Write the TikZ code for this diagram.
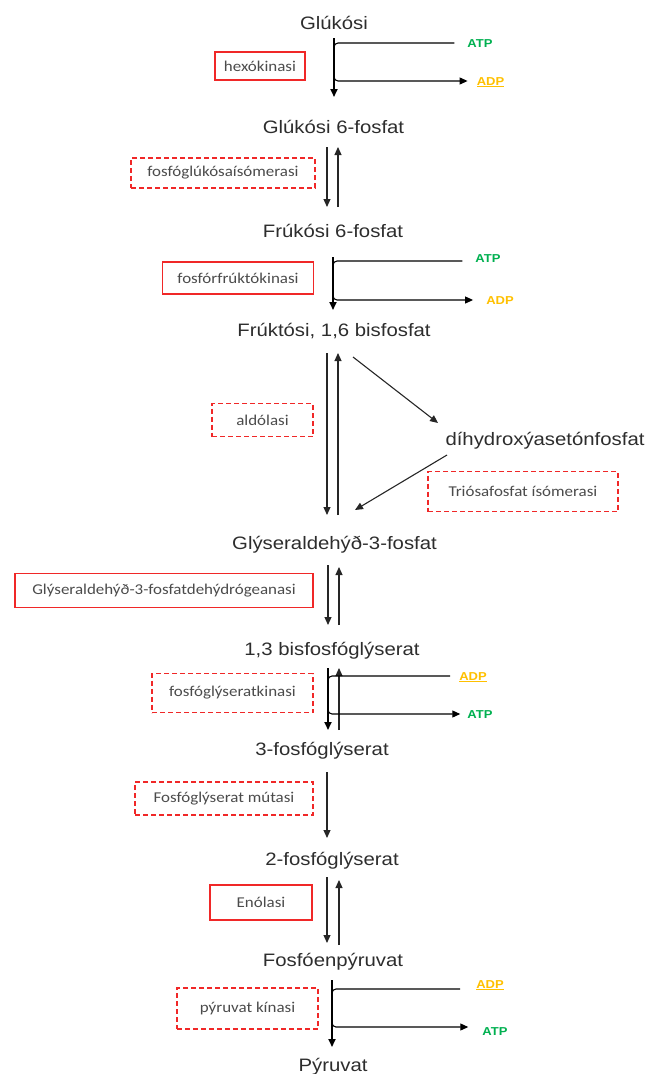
\documentclass[tikz,border=0pt]{standalone}
\usepackage{fontspec}
\usetikzlibrary{arrows.meta}
\newfontfamily\metfont[FakeStretch=1.13]{Liberation Sans}
\newfontfamily\enzfont[FakeStretch=1.13]{Carlito}
\definecolor{atpgreen}{RGB}{0,176,80}
\definecolor{adpyellow}{RGB}{255,192,0}
\definecolor{boxred}{RGB}{240,40,40}
\definecolor{txt}{RGB}{45,45,45}
\definecolor{enztxt}{RGB}{75,75,75}
\begin{document}
\begin{tikzpicture}[x=1pt,y=1pt,
 met/.style={anchor=base,inner sep=0pt,text=txt,font=\metfont\fontsize{18}{20}\selectfont},
 enz/.style={draw=boxred,line width=1.8pt,inner sep=0pt,text=enztxt,font=\enzfont\fontsize{15}{17}\selectfont},
 enzd/.style={enz,dash pattern=on 5pt off 3pt},
 lbl/.style={inner sep=0pt,text height=8.5pt,text depth=0pt,font=\metfont\bfseries\fontsize{11.5}{13}\selectfont},
 atp/.style={lbl,text=atpgreen},
 adp/.style={lbl,text=adpyellow},
 tip/.style={-{Triangle[length=8pt,width=7pt]}},
 arr/.style={tip,line width=1.1pt,draw=black!85},
 kin/.style={tip,line width=1.8pt},
 br/.style={line width=1.1pt,rounded corners=4pt},
]
\path[use as bounding box] (0,0) rectangle (659,-1074);

% metabolites
\node[met] (m1) at (334,-29) {Glúkósi};
\node[met] (m2) at (333.5,-133) {Glúkósi 6-fosfat};
\node[met] (m3) at (333,-237) {Frúkósi 6-fosfat};
\node[met] (m4) at (334,-336.5) {Frúktósi, 1,6 bisfosfat};
\node[met] (m5) at (545,-445) {díhydroxýasetónfosfat};
\node[met] (m6) at (334.5,-549) {Glýseraldehýð-3-fosfat};
\node[met] (m7) at (332,-655) {1,3 bisfosfóglýserat};
\node[met] (m8) at (322,-755) {3-fosfóglýserat};
\node[met] (m9) at (332,-865) {2-fosfóglýserat};
\node[met] (m10) at (333,-966) {Fosfóenpýruvat};
\node[met] (m11) at (333,-1071) {Pýruvat};

% enzymes
\node[enz, minimum width=90pt, minimum height=28pt] (e1) at (260,-66) {hexókinasi};
\node[enzd, minimum width=184pt, minimum height=30pt] (e2) at (223,-173) {fosfóglúkósaísómerasi};
\node[enz, minimum width=151pt, minimum height=32pt] (e3) at (238,-278) {fosfórfrúktókinasi};
\node[enzd, minimum width=101pt, minimum height=33pt] (e4) at (262.5,-420) {aldólasi};
\node[enzd, minimum width=190pt, minimum height=40pt] (e5) at (523,-491.5) {Triósafosfat ísómerasi};
\node[enz, minimum width=298pt, minimum height=34pt] (e6) at (164,-590.5) {Glýseraldehýð-3-fosfatdehýdrógeanasi};
\node[enzd, minimum width=161pt, minimum height=39pt] (e7) at (232.5,-693) {fosfóglýseratkinasi};
\node[enzd, minimum width=178pt, minimum height=33pt] (e8) at (224,-798.5) {Fosfóglýserat mútasi};
\node[enz, minimum width=102pt, minimum height=35pt] (e9) at (261,-902.5) {Enólasi};
\node[enzd, minimum width=141pt, minimum height=41pt] (e10) at (247.5,-1008.5) {pýruvat kínasi};

% ATP / ADP labels
\node[atp] (atp1) at (480,-43) {ATP};
\node[adp] (adp1) at (490.5,-81) {\underline{ADP}};
\node[atp] (atp2) at (488,-258) {ATP};
\node[adp] (adp2) at (500,-300) {ADP};
\node[adp] (adp3) at (473,-676) {\underline{ADP}};
\node[atp] (atp3) at (480,-714) {ATP};
\node[adp] (adp4) at (490,-984) {\underline{ADP}};
\node[atp] (atp4) at (495,-1031) {ATP};

% step 1: hexokinase
\draw[kin] ([shift={(0,-9)}]m1.base) -- ([shift={(0.5,36)}]m2.base);
\draw[br,shorten <=13pt] (atp1.west) -| ([shift={(0,-24)}]m1.base);
\draw[br,tip,shorten >=9pt] ([shift={(0,-38)}]m1.base) |- (adp1.west);

% step 2
\draw[arr] ([shift={(-6.5,-14)}]m2.base) -- ([shift={(-6,30)}]m3.base);
\draw[arr] ([shift={(5,30)}]m3.base) -- ([shift={(4.5,-14)}]m2.base);

% step 3: PFK
\draw[kin] ([shift={(0,-20)}]m3.base) -- ([shift={(-1,26.5)}]m4.base);
\draw[br,shorten <=13pt] ([yshift=-3pt]atp2.west) -| ([shift={(0,-34)}]m3.base);
\draw[br,tip,shorten >=13pt] ([shift={(0,-50)}]m3.base) |- (adp2.west);

% step 4: aldolase
\draw[arr] ([shift={(-7,-16.5)}]m4.base) -- ([shift={(-7.5,34)}]m6.base);
\draw[arr] ([shift={(3.5,34)}]m6.base) -- ([shift={(4,-16.5)}]m4.base);
\draw[arr] ([shift={(19,-20.5)}]m4.base) -- ([shift={(-107,22)}]m5.base);
\draw[arr] ([shift={(-98,-10)}]m5.base) -- ([shift={(20.5,39)}]m6.base);

% step 6
\draw[arr] ([shift={(-6.5,-16)}]m6.base) -- ([shift={(-4,30)}]m7.base);
\draw[arr] ([shift={(7,30)}]m7.base) -- ([shift={(4.5,-18)}]m6.base);

% step 7: PGK
\draw[kin] ([shift={(-4,-13)}]m7.base) -- ([shift={(6,25)}]m8.base);
\draw[arr] ([shift={(17,25)}]m8.base) -- ([shift={(7,-13)}]m7.base);
\draw[br,shorten <=9pt] (adp3.west) -| ([shift={(-4,-32)}]m7.base);
\draw[br,tip,shorten >=7pt] ([shift={(-4,-48)}]m7.base) |- (atp3.west);

% step 8
\draw[arr] ([shift={(5,-17)}]m8.base) -- ([shift={(-5,27)}]m9.base);

% step 9
\draw[arr] ([shift={(-5,-12)}]m9.base) -- ([shift={(-6,23)}]m10.base);
\draw[arr] ([shift={(6,21)}]m10.base) -- ([shift={(7,-15)}]m9.base);

% step 10: pyruvate kinase
\draw[kin] ([shift={(-1,-14)}]m10.base) -- ([shift={(-1,24)}]m11.base);
\draw[br,shorten <=16pt] ([yshift=-5pt]adp4.west) -| ([shift={(-1,-34)}]m10.base);
\draw[br,tip,shorten >=14pt] ([shift={(-1,-52)}]m10.base) |- ([yshift=4pt]atp4.west);
\end{tikzpicture}
\end{document}
